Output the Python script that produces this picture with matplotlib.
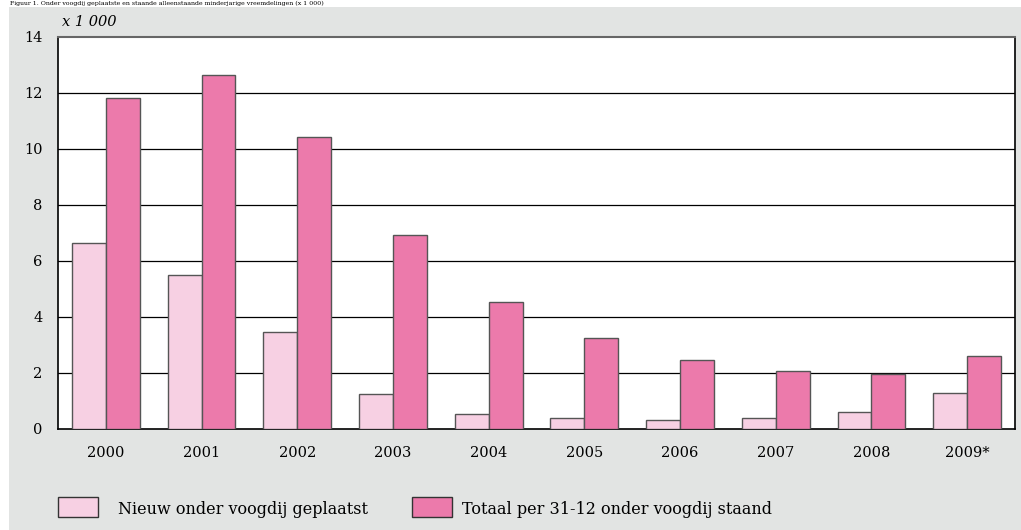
import matplotlib.pyplot as plt
import numpy as np
from matplotlib.patches import Rectangle

# data (x 1 000)
jaren = ["2000", "2001", "2002", "2003", "2004", "2005", "2006", "2007", "2008", "2009*"]
nieuw = [6.64, 5.50, 3.46, 1.25, 0.54, 0.39, 0.32, 0.39, 0.61, 1.29]
totaal = [11.82, 12.64, 10.43, 6.93, 4.54, 3.25, 2.46, 2.07, 1.96, 2.61]
labels = ["Nieuw onder voogdij geplaatst", "Totaal per 31-12 onder voogdij staand"]

licht = "#f7d0e3"
donker = "#ec7aab"
grijs = "#e2e4e3"

plt.rcParams['font.family'] = ['DejaVu Serif']

fig = plt.figure(figsize=(10.21, 5.30), dpi=100)
fig.patches.append(Rectangle((9/1021, 0), 1 - 9/1021, 1 - 7/530, transform=fig.transFigure,
                             facecolor=grijs, edgecolor="none", zorder=-5))
fig.text(0.01, 1 - 3.5/530, "Figuur 1. Onder voogdij geplaatste en staande alleenstaande minderjarige vreemdelingen (x 1 000)",
         fontsize=4.5, va="center", ha="left")

ax = fig.add_axes([58/1021, 1 - 429/530, (1015 - 58)/1021, (429 - 37)/530])
ax.set_zorder(2)
ax.set_facecolor("white")

x = np.arange(len(jaren))
w = 0.354
ax.bar(x - w/2, nieuw, w, color=licht, edgecolor="#555555", linewidth=1, zorder=3)
ax.bar(x + w/2, totaal, w, color=donker, edgecolor="#555555", linewidth=1, zorder=3)

ax.set_xlim(-0.5, len(jaren) - 0.5)
ax.set_ylim(0, 14)
ax.set_yticks(range(0, 15, 2))
ax.set_xticks(x)
ax.set_xticklabels(jaren)
for yy in range(2, 14, 2):
    ax.axhline(yy, color="black", linewidth=0.9, zorder=1)
ax.tick_params(axis="both", length=0, labelsize=10.5, pad=12)
ax.tick_params(axis="y", pad=11)
for s in ["left", "bottom", "right"]:
    ax.spines[s].set_color("black")
    ax.spines[s].set_linewidth(1.2)
ax.spines["top"].set_color("#666666")
ax.spines["top"].set_linewidth(1.5)

fig.text(62/1021, 1 - 22/530, "x 1 000", fontsize=10.5, style="italic", va="center", ha="left")

# legend
for (px, tx, kleur, lab) in [(58, 118, licht, labels[0]), (412, 462, donker, labels[1])]:
    fig.patches.append(Rectangle((px/1021, 1 - 517/530), 40/1021, 20/530, transform=fig.transFigure,
                                 facecolor=kleur, edgecolor="#333333", linewidth=1, zorder=2))
    fig.text(tx/1021, 1 - 509/530, lab, fontsize=11.5, va="center", ha="left")

fig.savefig("out.png", dpi=100)
